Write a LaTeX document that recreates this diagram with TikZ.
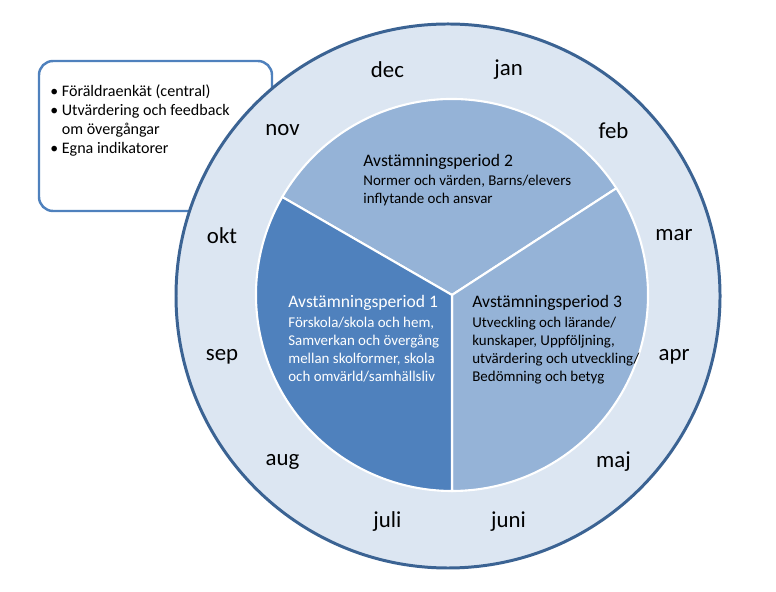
\documentclass[tikz,border=0pt]{standalone}
\usepackage{fontspec}
\setmainfont{Carlito}
\usetikzlibrary{calc}

\definecolor{ringfill}{HTML}{DCE6F2}
\definecolor{ringline}{HTML}{3B6393}
\definecolor{darkper}{HTML}{4F81BD}
\definecolor{lightper}{HTML}{95B3D7}

\tikzset{
  month/.style={font=\fontsize{13}{15}\selectfont, inner sep=0},
  ptitle/.style={anchor=base west, inner sep=0, font=\fontsize{10}{12}\selectfont},
  ptext/.style={anchor=base west, inner sep=0, align=left, font=\fontsize{8.5}{10.3}\selectfont},
  sector/.style={draw=white, line width=1.2pt}
}

\begin{document}
\begin{tikzpicture}[x=0.02cm, y=0.02cm]
    \useasboundingbox (0,0) rectangle (776,591);

    % callout box, behind the wheel
    \draw[darkper, line width=1.4pt, rounded corners=8pt, fill=white] (39,530) rectangle (272,380);
    \node[anchor=base west, inner sep=0, align=left, font=\fontsize{9.15}{11}\selectfont] (notes) at (50,437)
      {{\small\textbullet}\ Föräldraenkät (central)\\
       {\small\textbullet}\ Utvärdering och feedback\\
       \hphantom{{\small\textbullet}\ }om övergångar\\
       {\small\textbullet}\ Egna indikatorer};

    % year ring
    \coordinate (c) at (448,295);
    \draw[ringline, line width=1.7pt, fill=ringfill] (c) circle[radius=272];

    \foreach \m [count=\i] in {jan,feb,mar,apr,maj,juni,juli,aug,sep,okt,nov,dec}
      \node[month] (\m) at ($(c)+(105-30*\i:234)$) {\m};

    % the three periods
    \coordinate (pc) at (452,296);
    \fill[lightper, sector] (pc) -- ++(33:196) arc[start angle=33, end angle=150, radius=196] -- cycle;
    \fill[lightper, sector] (pc) -- ++(-90:196) arc[start angle=-90, end angle=33, radius=196] -- cycle;
    \fill[darkper, sector, shift={(-2.5,-1.5)}] (pc) -- ++(150:196) arc[start angle=150, end angle=270, radius=196] -- cycle;

    \node[ptitle] (p2title) at (363,424) {Avstämningsperiod 2};
    \node[ptext] (p2text) at (363,387) {Normer och värden, Barns/elevers\\inflytande och ansvar};

    \node[ptitle, white] (p1title) at (288,283) {Avstämningsperiod 1};
    \node[ptext, white] (p1text) at (288,209) {Förskola/skola och hem,\\Samverkan och övergång\\mellan skolformer, skola\\och omvärld/samhällsliv};

    \node[ptitle] (p3title) at (472,283) {Avstämningsperiod 3};
    \node[ptext] (p3text) at (472,209) {Utveckling och lärande/\\kunskaper, Uppföljning,\\utvärdering och utveckling/\\Bedömning och betyg};
\end{tikzpicture}
\end{document}
